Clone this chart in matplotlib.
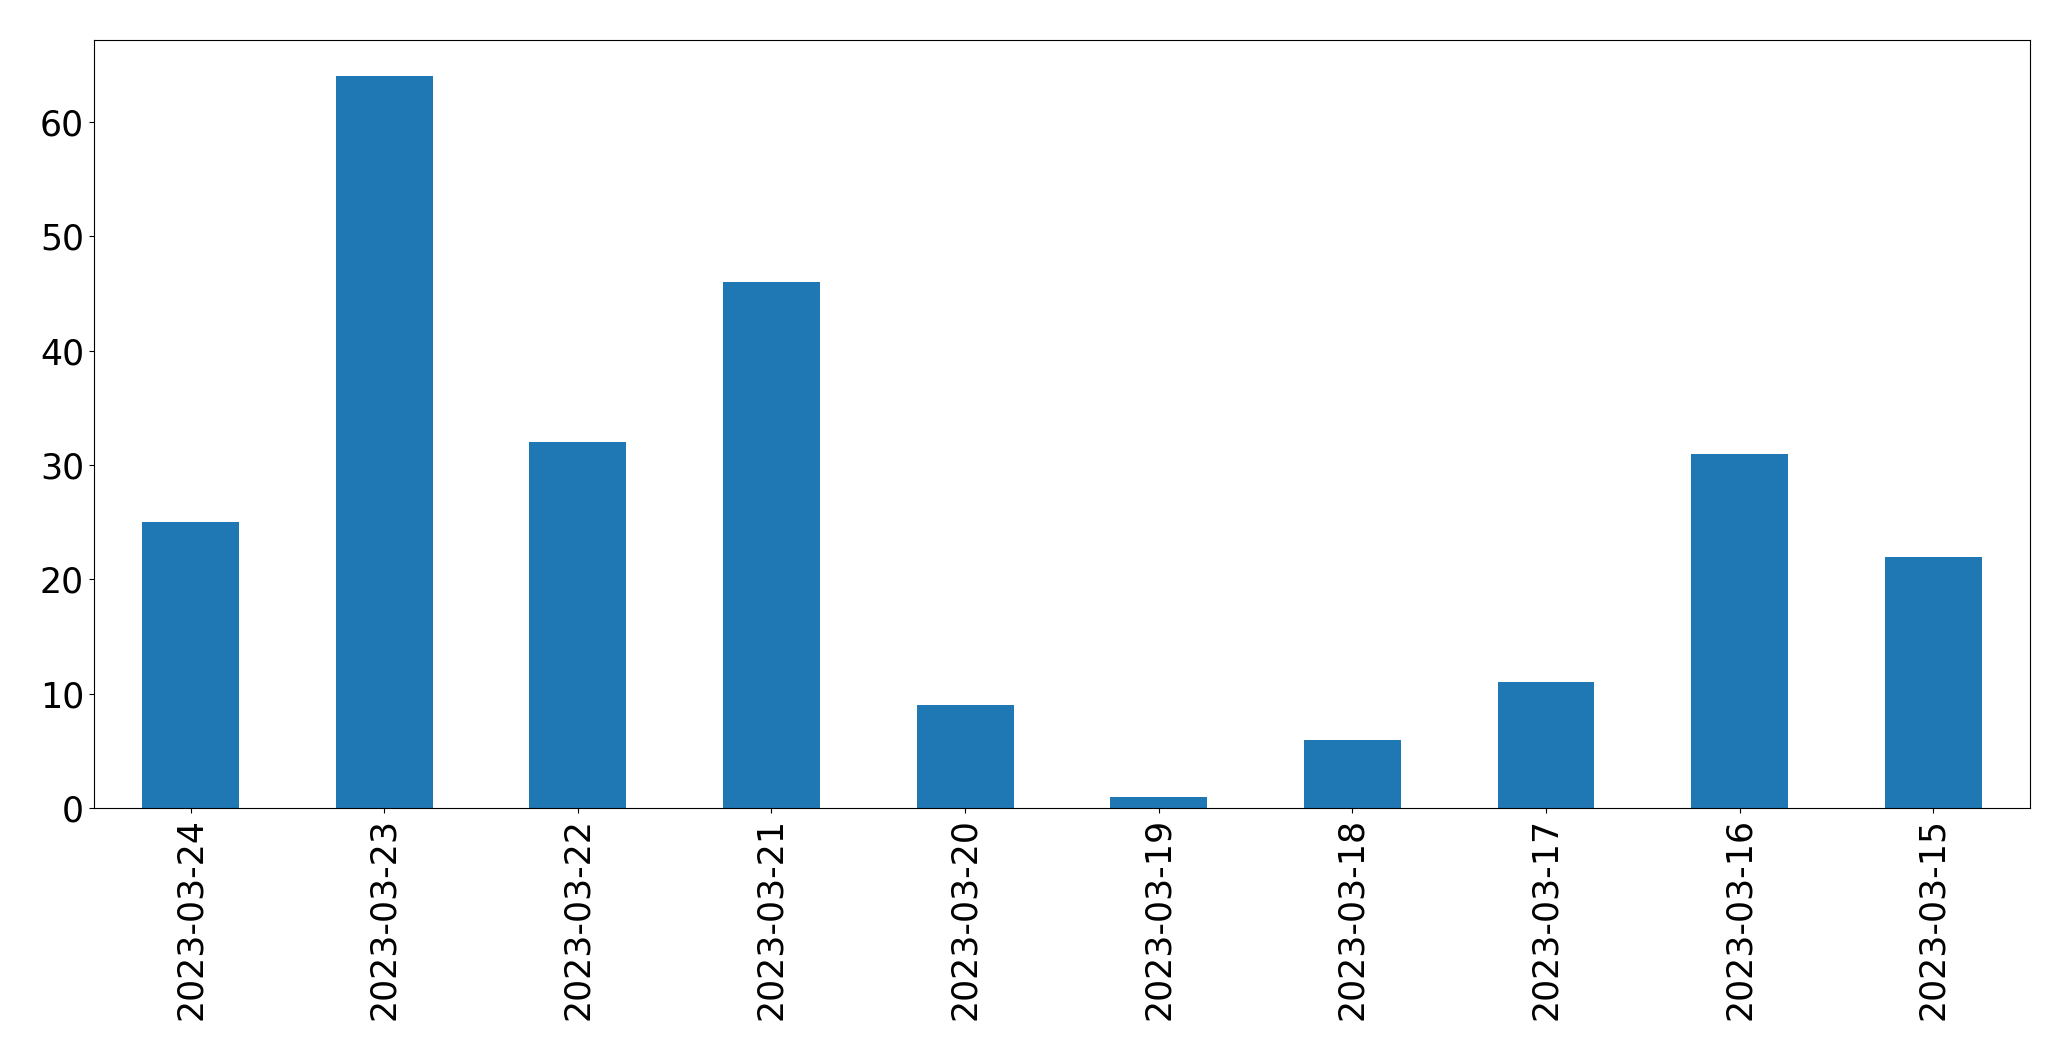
import matplotlib
matplotlib.use("Agg")
import matplotlib.pyplot as plt

dates = ["2023-03-24", "2023-03-23", "2023-03-22", "2023-03-21", "2023-03-20",
         "2023-03-19", "2023-03-18", "2023-03-17", "2023-03-16", "2023-03-15"]
counts = [25, 64, 32, 46, 9, 1, 6, 11, 31, 22]

fig = plt.figure(figsize=(20.71, 10.61), dpi=100)
ax = fig.add_axes([0.0453, 0.2382, 0.9349, 0.7245])
x = range(len(dates))
ax.bar(x, counts, width=0.5, color="#1f77b4")
ax.set_xlim(-0.5, len(dates) - 0.5)
ax.set_ylim(0, max(counts) * 1.05)
ax.set_xticks(list(x))
ax.set_xticklabels(dates, rotation=90)
ax.tick_params(labelsize=25)
fig.savefig("out.png", dpi=100)
